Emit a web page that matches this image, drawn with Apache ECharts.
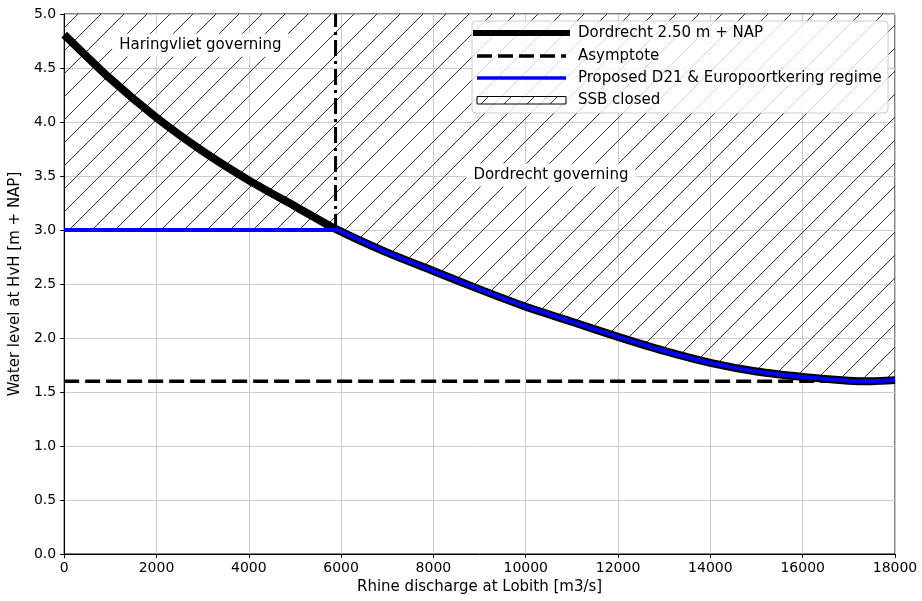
<!DOCTYPE html>
<html>
<head>
<meta charset="utf-8">
<script src="https://cdn.jsdelivr.net/npm/echarts@6/dist/echarts.min.js"></script>
<style>
  html, body { margin: 0; padding: 0; background: #fff; }
  #chart { width: 922px; height: 601px; }
</style>
</head>
<body>
<div id="chart"></div>
<script>
// discharge at Lobith [m3/s]
const discharge = [0, 1000, 2000, 3000, 4000, 5000, 5880, 7000, 8000, 9000, 10000, 11000, 12000, 13000, 14000, 15000, 16000, 17000, 17500, 18000];
// Dordrecht 2.50 m + NAP curve
const dordrecht = [4.81, 4.40, 4.04, 3.73, 3.46, 3.22, 3.01, 2.79, 2.62, 2.45, 2.29, 2.15, 2.01, 1.88, 1.77, 1.69, 1.64, 1.605, 1.60, 1.61];
// proposed regime (blue): flat part, then the Dordrecht curve
const regimeFlatX = [0, 5880];
const regimeFlatY = [3.0, 3.0];
const regime = [3.0, 3.0, 3.0, 3.0, 3.0, 3.0, 3.01, 2.79, 2.62, 2.45, 2.29, 2.15, 2.01, 1.88, 1.77, 1.69, 1.64, 1.605, 1.60, 1.61];
// asymptote
const asymX = [0, 18000];
const asymY = [1.6, 1.6];
// switch line Haringvliet / Dordrecht
const switchX = [5880, 5880];
const switchY = [3.0, 5.0];
// annotations
const noteText = ['Haringvliet governing', 'Dordrecht governing'];
const noteX = [2950, 10545];
const noteY = [4.71, 3.51];

const legendNames = ['Dordrecht 2.50 m + NAP', 'Asymptote', 'Proposed D21 & Europoortkering regime', 'SSB closed'];

const font = 'DejaVu Sans';

// hatch pattern "/"
function makeHatch() {
  const s = 23;
  const c = document.createElement('canvas');
  c.width = s; c.height = s;
  const ctx = c.getContext('2d');
  ctx.strokeStyle = '#333';
  ctx.lineWidth = 1;
  for (const off of [-s, 0, s]) {
    ctx.beginPath();
    ctx.moveTo(off, s);
    ctx.lineTo(off + s, 0);
    ctx.stroke();
  }
  return c;
}
const hatch = { image: makeHatch(), repeat: 'repeat' };

function pairs(xs, ys) {
  return xs.map((x, i) => [x, ys[i]]);
}

// legend drawn by hand (matplotlib look)
const LZ = 100;
const rowY = [12, 35, 57, 79];
function legendText(i) {
  return {
    type: 'text', x: 106, y: rowY[i], z: LZ + 2,
    style: { text: legendNames[i], font: '15px "DejaVu Sans"', fill: '#000', verticalAlign: 'middle' }
  };
}
const legendGroup = {
  type: 'group', x: 472, y: 21,
  children: [
    { type: 'rect', z: LZ, shape: { x: 0, y: 0, width: 416, height: 92, r: 4 },
      style: { fill: 'rgba(255,255,255,0.8)', stroke: '#cccccc', lineWidth: 1 } },
    { type: 'line', z: LZ + 1, shape: { x1: 4, y1: rowY[0], x2: 95, y2: rowY[0] },
      style: { stroke: '#000', lineWidth: 6, lineCap: 'square' } },
    { type: 'line', z: LZ + 1, shape: { x1: 5, y1: rowY[1], x2: 94, y2: rowY[1] },
      style: { stroke: '#000', lineWidth: 3.5, lineDash: [15, 6] } },
    { type: 'line', z: LZ + 1, shape: { x1: 5, y1: rowY[2], x2: 94, y2: rowY[2] },
      style: { stroke: '#0000ff', lineWidth: 3.3 } },
    { type: 'rect', z: LZ + 1, shape: { x: 5, y: rowY[3] - 3.5, width: 89, height: 7.5 },
      style: { fill: hatch, stroke: '#000', lineWidth: 1 } },
    legendText(0), legendText(1), legendText(2), legendText(3)
  ]
};

const chart = echarts.init(document.getElementById('chart'), null, { renderer: 'canvas' });

chart.setOption({
  animation: false,
  backgroundColor: '#fff',
  textStyle: { fontFamily: font },
  grid: {
    left: 62, right: 27, top: 14, bottom: 47,
    show: true, borderColor: '#000', borderWidth: 1, backgroundColor: '#fff'
  },
  graphic: [legendGroup],
  xAxis: {
    type: 'value', min: 0, max: 18000, interval: 2000,
    name: 'Rhine discharge at Lobith [m3/s]', nameLocation: 'middle', nameGap: 24,
    nameTextStyle: { fontFamily: font, fontSize: 15, color: '#000' },
    axisLine: { show: true, onZero: false, lineStyle: { color: '#000', width: 1 } },
    axisTick: { show: true, length: 4, lineStyle: { color: '#000' } },
    axisLabel: { fontFamily: font, fontSize: 14, color: '#000', margin: 7, showMaxLabel: true, formatter: v => String(v) },
    splitLine: { show: true, lineStyle: { color: '#cccccc', width: 1 } }
  },
  yAxis: {
    type: 'value', min: 0, max: 5, interval: 0.5,
    name: 'Water level at HvH [m + NAP]', nameLocation: 'middle', nameGap: 37,
    nameTextStyle: { fontFamily: font, fontSize: 15, color: '#000' },
    axisLine: { show: true, onZero: false, lineStyle: { color: '#000', width: 1 } },
    axisTick: { show: true, length: 4, lineStyle: { color: '#000' } },
    axisLabel: { fontFamily: font, fontSize: 14, color: '#000', margin: 8, formatter: v => v.toFixed(1) },
    splitLine: { show: true, lineStyle: { color: '#cccccc', width: 1 } }
  },
  series: [
    {
      name: legendNames[3],
      type: 'line',
      data: pairs(discharge, regime),
      symbol: 'none',
      z: 1,
      lineStyle: { width: 0, opacity: 0 },
      areaStyle: { color: hatch, origin: 'end', opacity: 1 },
      silent: true
    },
    {
      name: legendNames[1],
      type: 'line',
      data: pairs(asymX, asymY),
      symbol: 'none',
      z: 2,
      lineStyle: { color: '#000', width: 3.5, type: [15, 6] }
    },
    {
      name: 'switch',
      type: 'line',
      data: pairs(switchX, switchY),
      symbol: 'none',
      z: 3,
      lineStyle: { color: '#000', width: 3, type: [16, 5, 3, 5] }
    },
    {
      name: legendNames[0],
      type: 'line',
      data: pairs(discharge, dordrecht),
      symbol: 'none',
      smooth: 0.2,
      z: 4,
      lineStyle: { color: '#000', width: 8, cap: 'butt', join: 'round' }
    },
    {
      // blue, curved part follows the Dordrecht curve
      name: legendNames[2],
      type: 'line',
      data: pairs(discharge.slice(6), regime.slice(6)),
      symbol: 'none',
      smooth: 0.2,
      z: 5,
      lineStyle: { color: '#0000ff', width: 4, join: 'round' }
    },
    {
      name: 'regime flat',
      type: 'line',
      data: pairs(regimeFlatX, regimeFlatY),
      symbol: 'none',
      z: 5,
      lineStyle: { color: '#0000ff', width: 4, join: 'round' }
    },
    {
      name: 'notes',
      type: 'scatter',
      z: 6,
      symbolSize: 0,
      itemStyle: { opacity: 1 },
      data: noteText.map((t, i) => [noteX[i], noteY[i], t]),
      label: {
        show: true, position: 'inside',
        formatter: p => p.value[2],
        fontFamily: font, fontSize: 15, color: '#000', opacity: 1,
        backgroundColor: '#fff', padding: [4, 7]
      }
    }
  ]
});
</script>
</body>
</html>
